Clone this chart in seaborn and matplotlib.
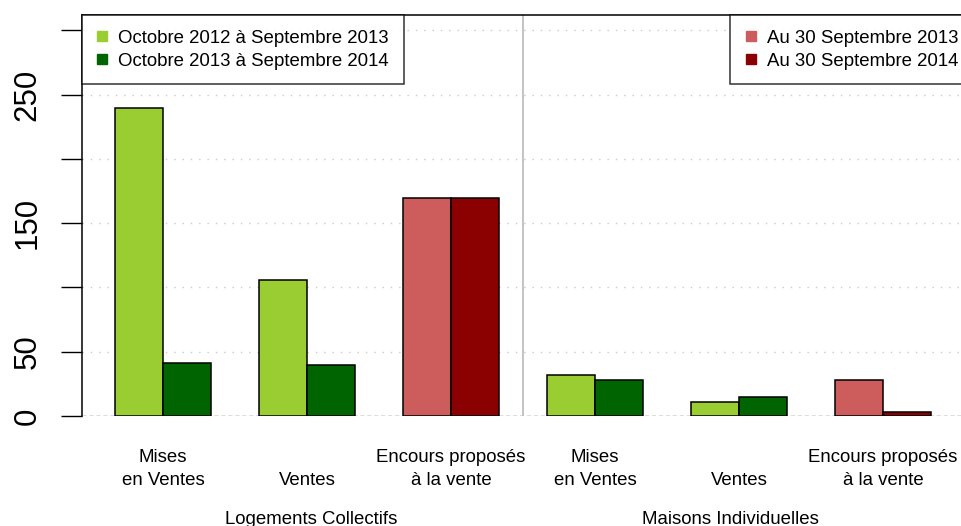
import pandas as pd
import matplotlib
matplotlib.use("Agg")
from matplotlib import pyplot as plt
from matplotlib.lines import Line2D
import matplotlib.transforms as mtransforms
import seaborn as sns

# données
groupes = ["LC_mises", "LC_ventes", "LC_encours", "MI_mises", "MI_ventes", "MI_encours"]
etiquettes = ["Mises\nen Ventes", "\nVentes", "Encours proposés\nà la vente"] * 2
nature = ["flux", "flux", "stock"] * 2
periode_1 = [240, 106, 170, 32, 11, 28]
periode_2 = [41, 40, 170, 28, 15, 3]
types = ["Logements Collectifs", "Maisons Individuelles"]
leg_flux = ["Octobre 2012 à Septembre 2013", "Octobre 2013 à Septembre 2014"]
leg_stock = ["Au 30 Septembre 2013", "Au 30 Septembre 2014"]
yticks = [0, 50, 100, 150, 200, 250, 300]
ytick_labels = ["0", "50", "", "150", "", "250", ""]

col_flux = ["#9ACD32", "#006400"]
col_stock = ["#CD5C5C", "#8B0000"]

df = pd.DataFrame({
    "groupe": groupes * 2,
    "periode": ["p1"] * len(groupes) + ["p2"] * len(groupes),
    "valeur": periode_1 + periode_2,
})

sns.set_style("white")
plt.rcParams['font.family'] = ['Liberation Sans', 'DejaVu Sans']
plt.rcParams['text.color'] = 'black'
plt.rcParams['xtick.color'] = 'black'
plt.rcParams['ytick.color'] = 'black'
plt.rcParams['xtick.labelcolor'] = 'black'
plt.rcParams['ytick.labelcolor'] = 'black'

fig = plt.figure(figsize=(9.62, 5.26), dpi=100)
ax = fig.add_axes([82/962, (526-416)/526, (964-82)/962, (416-15)/526])

sns.barplot(data=df, x="groupe", y="valeur", hue="periode", order=groupes,
            width=2/3, edgecolor="black", linewidth=1.1, legend=False,
            ax=ax, zorder=3)

for i, bars in enumerate(ax.containers):
    for j, bar in enumerate(bars):
        cols = col_stock if nature[j] == "stock" else col_flux
        bar.set_facecolor(cols[i])

ax.set_xlim(-0.5625, 5.5625)
ax.set_ylim(0, 312)
ax.set_xlabel("")
ax.set_ylabel("")

# grille, ligne de base, séparateur
for y in yticks[1:]:
    ax.axhline(y, color="#cccccc", ls=(0, (1, 5)), lw=1, zorder=1)
ax.axhline(0, color="#555555", ls=(0, (3, 2)), lw=1, zorder=2)
ax.axvline(2.5, color="#bebebe", lw=1.3, zorder=2)

ax.set_yticks(yticks, ytick_labels)
ax.tick_params(axis="y", labelrotation=90, length=15, width=1, pad=13.5,
               labelsize=22.5, left=True, color="black")
for lab in ax.get_yticklabels():
    lab.set_va("center")

ax.set_xticks(range(len(groupes)), etiquettes)
ax.tick_params(axis="x", length=0, pad=24, labelsize=13.4)
for lab in ax.get_xticklabels():
    lab.set_linespacing(1.45)

for side in ["right", "bottom"]:
    ax.spines[side].set_visible(False)
for side in ["left", "top"]:
    ax.spines[side].set_color("black")
    ax.spines[side].set_linewidth(1.1)

trans = mtransforms.blended_transform_factory(ax.transData, ax.transAxes)
ax.text(1.03, -0.259, types[0], transform=trans, ha="center", va="center", fontsize=13.4)
ax.text(3.94, -0.259, types[1], transform=trans, ha="center", va="center", fontsize=13.4)

def handles(cols):
    return [Line2D([], [], ls="", marker="s", markersize=7, color=c) for c in cols]

kw = dict(fontsize=13.4, frameon=True, fancybox=False, borderaxespad=0,
          handlelength=0.6, handletextpad=0.55, labelspacing=0.3, borderpad=0.8)
lg1 = ax.legend(handles(col_flux), leg_flux, loc="upper left", **kw)
lg1.get_frame().set_edgecolor("black")
lg1.get_frame().set_linewidth(1.1)
ax.add_artist(lg1)
lg2 = ax.legend(handles(col_stock), leg_stock, loc="upper right",
                bbox_to_anchor=(1 + 9/882, 1), **kw)
lg2.get_frame().set_edgecolor("black")
lg2.get_frame().set_linewidth(1.1)

fig.savefig("out.png", dpi=100)
